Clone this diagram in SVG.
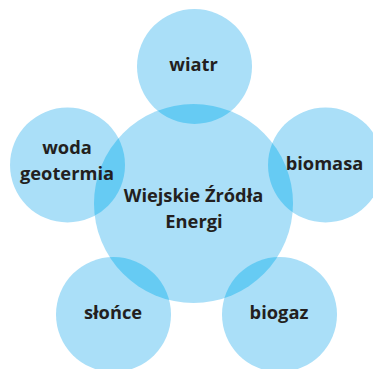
<svg xmlns="http://www.w3.org/2000/svg" width="373" height="369" viewBox="0 0 373 369">
<defs>
<clipPath id="cc"><circle cx="193.5" cy="203.5" r="99.5"/></clipPath>
</defs>
<style>
.c{fill:#aadff8}
.o{fill:#66cbf3}
.t{font-family:"Open Sans","DejaVu Sans",sans-serif;font-weight:700;font-size:18.3px;fill:#231f20;text-anchor:middle}
</style>
<rect width="373" height="369" fill="#ffffff"/>
<g id="center"><circle class="c" cx="193.5" cy="203.5" r="99.5"/></g>
<g id="wiatr"><circle class="c" cx="194.5" cy="66.5" r="57.5"/></g>
<g id="woda"><circle class="c" cx="67.5" cy="165" r="57.5"/></g>
<g id="biomasa"><circle class="c" cx="325.5" cy="165" r="57.5"/></g>
<g id="slonce"><circle class="c" cx="113.5" cy="314.5" r="57.5"/></g>
<g id="biogaz"><circle class="c" cx="279.5" cy="314.5" r="57.5"/></g>
<g id="overlaps" clip-path="url(#cc)">
<circle class="o" cx="194.5" cy="66.5" r="57.5"/>
<circle class="o" cx="67.5" cy="165" r="57.5"/>
<circle class="o" cx="325.5" cy="165" r="57.5"/>
<circle class="o" cx="113.5" cy="314.5" r="57.5"/>
<circle class="o" cx="279.5" cy="314.5" r="57.5"/>
</g>
<g id="labels">
<text class="t" x="193.5" y="71">wiatr</text>
<text class="t" x="67" y="154">woda</text>
<text class="t" x="67" y="180">geotermia</text>
<text class="t" x="324.5" y="170">biomasa</text>
<text class="t" x="193.5" y="202">Wiejskie Źródła</text>
<text class="t" x="194" y="228">Energi</text>
<text class="t" x="113" y="319">słońce</text>
<text class="t" x="279" y="319">biogaz</text>
</g>
<g id="connectors"></g>
</svg>
